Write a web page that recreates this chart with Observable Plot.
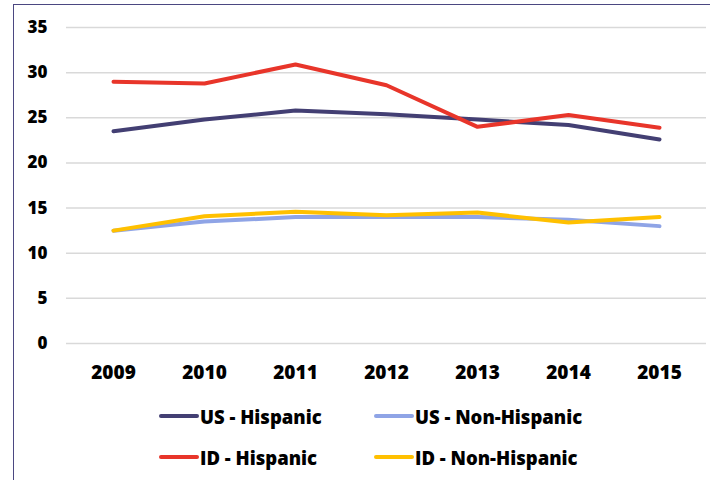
<!DOCTYPE html>
<html>
<head>
<meta charset="utf-8">
<script src="https://cdn.jsdelivr.net/npm/d3@7"></script>
<script src="https://cdn.jsdelivr.net/npm/@observablehq/plot@0.6"></script>
<style>
  html, body { margin: 0; padding: 0; background: #fff; }
  body { width: 710px; height: 480px; overflow: hidden; position: relative; font-family: "Open Sans", sans-serif; }
  #frame { position: absolute; left: 13px; top: 4px; width: 800px; height: 600px; border-left: 1.5px solid #4b4781; border-top: 1.5px solid #4b4781; box-sizing: border-box; }
  #chart { position: absolute; left: 0; top: 0; }
  .leg { position: absolute; display: flex; align-items: center; font-weight: 800; font-size: 18.5px; color: #000; white-space: nowrap; }
  .sw { width: 40px; height: 4px; border-radius: 2px; margin-right: 1px; }
</style>
</head>
<body>
<div id="frame"></div>
<div id="chart"></div>
<div id="legend"></div>
<script>
const years = ["2009", "2010", "2011", "2012", "2013", "2014", "2015"];
const seriesNames = ["US - Hispanic", "US - Non-Hispanic", "ID - Hispanic", "ID - Non-Hispanic"];
const seriesColors = ["#433f73", "#8fa4e6", "#e8352a", "#ffc000"];
const usHispanic = [23.5, 24.8, 25.8, 25.4, 24.8, 24.2, 22.6];
const usNonHispanic = [12.5, 13.5, 14.0, 14.0, 14.0, 13.7, 13.0];
const idHispanic = [29.0, 28.8, 30.9, 28.6, 24.0, 25.3, 23.9];
const idNonHispanic = [12.5, 14.1, 14.6, 14.2, 14.5, 13.4, 14.0];
const yTicks = [0, 5, 10, 15, 20, 25, 30, 35];

const seriesValues = [usHispanic, usNonHispanic, idHispanic, idNonHispanic];
const data = [];
seriesNames.forEach((name, i) => {
  years.forEach((yr, j) => data.push({ series: name, year: yr, value: seriesValues[i][j] }));
});

const chart = Plot.plot({
  width: 710,
  height: 400,
  marginLeft: 66,
  marginRight: 4,
  marginTop: 27,
  marginBottom: 57,
  style: { fontFamily: "Open Sans", fontWeight: 800, fontSize: "18px", color: "#000", background: "transparent" },
  x: { type: "point", domain: years, padding: 0.5, label: null, tickSize: 0 },
  y: { domain: [0, 35], label: null },
  color: { domain: seriesNames, range: seriesColors },
  marks: [
    Plot.ruleY(yTicks, { stroke: "#d9d9d9", strokeWidth: 1.5 }),
    Plot.axisY({ ticks: yTicks, tickSize: 0, tickPadding: 19, label: null, fontSize: 17, fontWeight: 800 }),
    Plot.axisX({ tickSize: 0, tickPadding: 22, label: null, fontSize: 19, fontWeight: 800 }),
    Plot.line(data, { x: "year", y: "value", z: "series", stroke: "series", strokeWidth: 4, strokeLinecap: "round", strokeLinejoin: "round" })
  ]
});
document.getElementById("chart").appendChild(chart);

const legendPos = [
  { left: 159, top: 416 },
  { left: 374, top: 416 },
  { left: 159, top: 457 },
  { left: 374, top: 457 }
];
const legend = document.getElementById("legend");
seriesNames.forEach((name, i) => {
  const item = document.createElement("div");
  item.className = "leg";
  item.style.left = legendPos[i].left + "px";
  item.style.top = (legendPos[i].top - 12) + "px";
  item.style.height = "24px";
  const sw = document.createElement("div");
  sw.className = "sw";
  sw.style.background = seriesColors[i];
  const tx = document.createElement("span");
  tx.textContent = name;
  item.appendChild(sw);
  item.appendChild(tx);
  legend.appendChild(item);
});
</script>
</body>
</html>
